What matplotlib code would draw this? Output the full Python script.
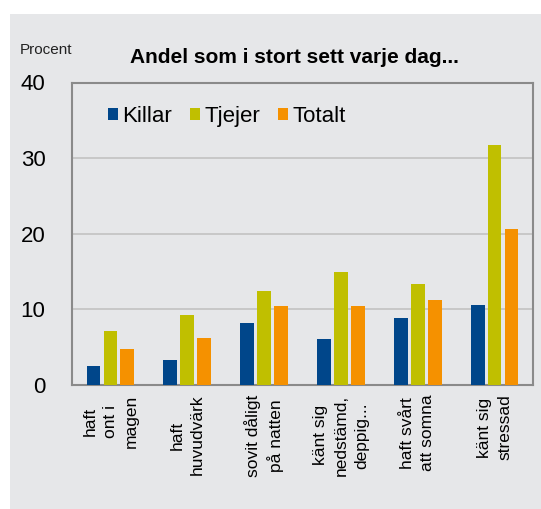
import matplotlib.pyplot as plt
import numpy as np
from matplotlib.patches import Rectangle

plt.rcParams['font.family'] = ['Liberation Sans', 'DejaVu Sans']

categories = ['haft\nont i\nmagen', 'haft\nhuvudvärk', 'sovit dåligt\npå natten',
              'känt sig\nnedstämd,\ndeppig...', 'haft svårt\natt somna', 'känt sig\nstressad']
killar = [2.5, 3.3, 8.2, 6.1, 8.9, 10.6]
tjejer = [7.1, 9.2, 12.4, 14.9, 13.4, 31.8]
totalt = [4.7, 6.2, 10.4, 10.4, 11.3, 20.6]
series = [('Killar', killar, '#00468a'), ('Tjejer', tjejer, '#c0bf00'), ('Totalt', totalt, '#f59100')]
yticks = [0, 10, 20, 30, 40]

W, H = 541, 509
bg = '#e6e7e9'
fig = plt.figure(figsize=(W / 100, H / 100), dpi=100, facecolor='white')
fig.patches.append(Rectangle((10 / W, 0), 1, (H - 14) / H, transform=fig.transFigure,
                             facecolor=bg, edgecolor='none', zorder=-10))

ax = fig.add_axes([72 / W, (H - 385) / H, 461 / W, 302.5 / H])
ax.set_facecolor(bg)

x = np.arange(len(categories))
width = 0.18
step = 0.22
for i, (name, vals, col) in enumerate(series):
    ax.bar(x + (i - 1) * step, vals, width, color=col, label=name, zorder=3)

ax.set_xlim(-0.5, len(categories) - 0.5)
ax.set_ylim(0, 40)
ax.set_yticks(yticks)
ax.yaxis.grid(True, color='#c2c2c2', linewidth=1.2, zorder=0)
ax.tick_params(axis='y', length=0, pad=19, labelsize=16)
ax.tick_params(axis='x', length=0, pad=7)
ax.set_xticks(x)
ax.set_xticklabels(categories, rotation=90, fontsize=12.5, va='top', ha='center',
                   multialignment='center', linespacing=1.45)
for s in ax.spines.values():
    s.set_color('#8a8a8a')
    s.set_linewidth(1.5)

leg = ax.legend(loc='center left', bbox_to_anchor=(0.078, 0.889), ncol=3, frameon=False,
                fontsize=16, handlelength=0.45, handleheight=0.45, handletextpad=0.2,
                columnspacing=0.8, borderaxespad=0, borderpad=0)

fig.text(20 / W, 1 - 50 / H, 'Procent', fontsize=11, color='#222222', va='center')
fig.text(294 / W, 1 - 58 / H, 'Andel som i stort sett varje dag...', fontsize=15,
         fontweight='bold', ha='center', va='center')

fig.savefig('out.png', dpi=100, facecolor=fig.get_facecolor())
